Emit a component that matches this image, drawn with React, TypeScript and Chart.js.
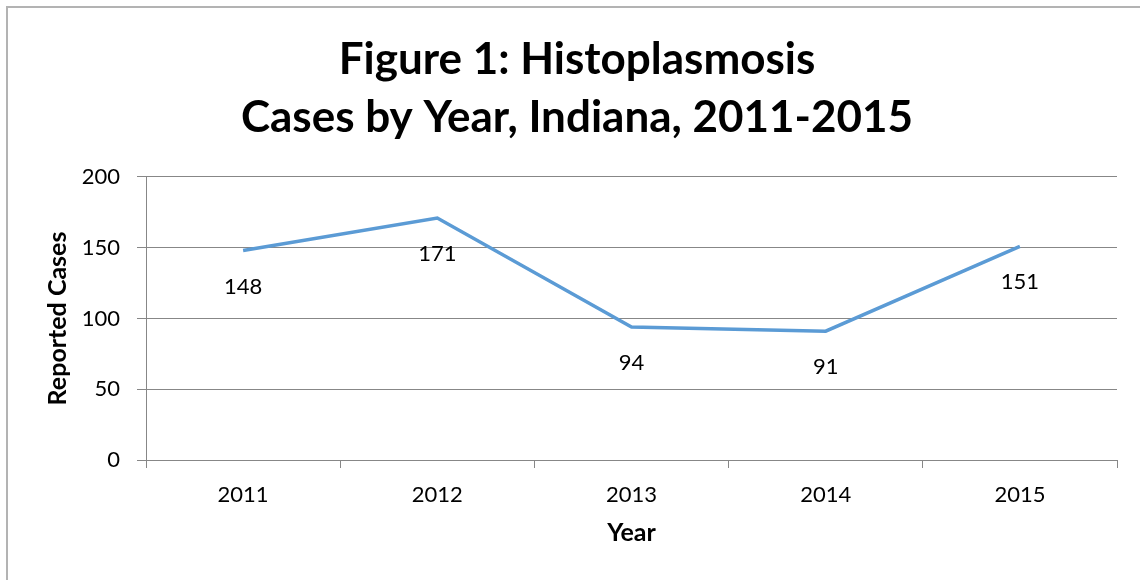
import React, { useEffect, useRef } from "react";
import { Chart, registerables } from "chart.js";

Chart.register(...registerables);

const years = ["2011", "2012", "2013", "2014", "2015"];
const cases = [148, 171, 94, 91, 151];
const titleLines = ["Figure 1: Histoplasmosis", "Cases by Year, Indiana, 2011-2015"];
const yTitle = "Reported Cases";
const xTitle = "Year";

const FONT = "Lato";

const framePlugin = {
  id: "frame",
  beforeDraw(chart: any) {
    const { ctx, width, height } = chart;
    ctx.save();
    ctx.fillStyle = "#ffffff";
    ctx.fillRect(0, 0, width, height);
    ctx.strokeStyle = "#b3b3b3";
    ctx.lineWidth = 2;
    ctx.strokeRect(7, 7, width + 100, height + 100);
    ctx.restore();
  },
};

// centre the title within the outer frame rather than the padded layout box
const titleCenterPlugin = {
  id: "titleCenter",
  afterLayout(chart: any) {
    const tb = chart.titleBlock;
    if (tb) {
      tb.left = 0;
      tb.right = 1154;
    }
  },
};

const labelPlugin = {
  id: "pointLabels",
  afterDatasetsDraw(chart: any) {
    const { ctx } = chart;
    const meta = chart.getDatasetMeta(0);
    const data = chart.data.datasets[0].data;
    ctx.save();
    ctx.fillStyle = "#000000";
    ctx.font = `22px ${FONT}`;
    ctx.textAlign = "center";
    ctx.textBaseline = "middle";
    meta.data.forEach((pt: any, i: number) => {
      ctx.fillText(String(data[i]), pt.x, pt.y + 36);
    });
    ctx.restore();
  },
};

export default function App() {
  const ref = useRef<HTMLCanvasElement | null>(null);

  useEffect(() => {
    if (!ref.current) return;
    const chart = new Chart(ref.current, {
      type: "line",
      data: {
        labels: years,
        datasets: [
          {
            data: cases,
            borderColor: "#5B9BD5",
            backgroundColor: "#5B9BD5",
            borderWidth: 3.5,
            pointRadius: 0,
            tension: 0,
            fill: false,
          },
        ],
      },
      options: {
        responsive: false,
        animation: false,
        devicePixelRatio: 1,
        layout: { padding: { left: 0, top: 0, right: 23, bottom: 0 } },
        plugins: {
          legend: { display: false },
          tooltip: { enabled: false },
          title: {
            display: true,
            text: titleLines,
            color: "#000000",
            font: { family: FONT, size: 44, weight: "bold", lineHeight: 1.318 },
            padding: { top: 31, bottom: 30 },
          },
        },
        scales: {
          x: {
            offset: true,
            grid: {
              offset: true,
              drawOnChartArea: false,
              drawTicks: true,
              tickLength: 8,
              color: "#878787",
            },
            border: { color: "#878787", width: 1 },
            ticks: {
              color: "#000000",
              font: { family: FONT, size: 22 },
              padding: 14,
              maxRotation: 0,
            },
            title: {
              display: true,
              text: xTitle,
              color: "#000000",
              font: { family: FONT, size: 25, weight: "bold" },
              padding: { top: 0, bottom: 32 },
            },
            afterFit(scale: any) {
              scale.height = 120;
            },
          },
          y: {
            min: 0,
            max: 200,
            grid: {
              color: "#878787",
              drawTicks: true,
              tickLength: 9,
            },
            border: { color: "#878787", width: 1 },
            ticks: {
              stepSize: 50,
              color: "#000000",
              font: { family: FONT, size: 22 },
              padding: 17,
            },
            title: {
              display: true,
              text: yTitle,
              color: "#000000",
              font: { family: FONT, size: 25, weight: "bold" },
              padding: { top: 43, bottom: 0 },
            },
            afterFit(scale: any) {
              scale.width = 146;
            },
          },
        },
      },
      plugins: [framePlugin, titleCenterPlugin, labelPlugin],
    });
    return () => chart.destroy();
  }, []);

  return (
    <div style={{ position: "fixed", left: 0, top: 0, width: 1140, height: 580 }}>
      <canvas ref={ref} width={1140} height={580} style={{ display: "block" }} />
    </div>
  );
}
